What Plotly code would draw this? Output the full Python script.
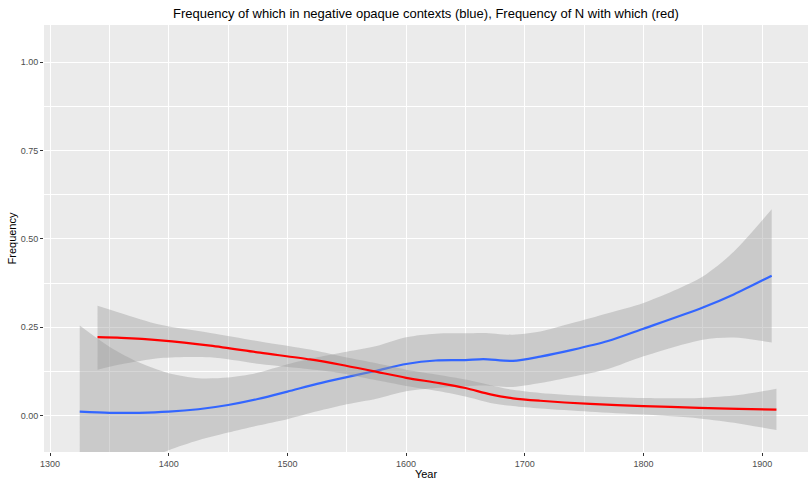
import plotly.graph_objects as go

# Blue: frequency of "which" in negative opaque contexts (loess fit + 95% band)
blue_years = [1325, 1350, 1375, 1400, 1425, 1450, 1475, 1500, 1525, 1550, 1575, 1600,
              1625, 1650, 1665, 1690, 1713, 1740, 1770, 1800, 1850, 1876, 1908]
blue_fit = [0.011, 0.008, 0.008, 0.011, 0.018, 0.030, 0.047, 0.068, 0.090, 0.109, 0.127, 0.146,
            0.156, 0.157, 0.160, 0.155, 0.167, 0.186, 0.211, 0.246, 0.306, 0.343, 0.396]
blue_upper = [0.255, 0.195, 0.150, 0.120, 0.106, 0.108, 0.121, 0.145, 0.165, 0.181, 0.197, 0.222,
              0.232, 0.233, 0.234, 0.229, 0.238, 0.262, 0.290, 0.319, 0.394, 0.464, 0.584]
blue_lower = [-0.233, -0.180, -0.134, -0.098, -0.070, -0.048, -0.028, -0.010, 0.012, 0.032, 0.048, 0.069,
              0.078, 0.083, 0.085, 0.081, 0.092, 0.110, 0.132, 0.168, 0.215, 0.221, 0.207]

# Red: frequency of N with "which"
red_years = [1340, 1360, 1393, 1435, 1477, 1519, 1545, 1572, 1600, 1628, 1650, 1671,
             1690, 1713, 1755, 1800, 1847, 1880, 1912]
red_fit = [0.222, 0.220, 0.213, 0.198, 0.178, 0.159, 0.144, 0.126, 0.107, 0.092, 0.078, 0.060,
           0.049, 0.042, 0.033, 0.027, 0.022, 0.019, 0.017]
red_upper = [0.311, 0.290, 0.257, 0.234, 0.210, 0.187, 0.168, 0.150, 0.130, 0.115, 0.102, 0.086,
             0.073, 0.064, 0.055, 0.050, 0.050, 0.058, 0.076]
red_lower = [0.130, 0.145, 0.163, 0.165, 0.146, 0.131, 0.120, 0.102, 0.084, 0.069, 0.054, 0.036,
             0.027, 0.020, 0.011, 0.003, -0.008, -0.022, -0.041]

x_ticks = [1300, 1400, 1500, 1600, 1700, 1800, 1900]
y_ticks = [0.0, 0.25, 0.5, 0.75, 1.0]
y_tick_labels = ["0.00", "0.25", "0.50", "0.75", "1.00"]

band_fill = "rgba(153,153,153,0.4)"
FONT = "Liberation Sans, Arial, Helvetica, sans-serif"

fig = go.Figure()


def add_band(xs, lo, hi):
    fig.add_trace(go.Scatter(
        x=xs, y=lo, mode="lines", line=dict(width=0, shape="spline", smoothing=0.8),
        hoverinfo="skip", showlegend=False))
    fig.add_trace(go.Scatter(
        x=xs, y=hi, mode="lines", fill="tonexty", fillcolor=band_fill,
        line=dict(width=0, shape="spline", smoothing=0.8),
        hoverinfo="skip", showlegend=False))


add_band(blue_years, blue_lower, blue_upper)
fig.add_trace(go.Scatter(x=blue_years, y=blue_fit, mode="lines",
                         line=dict(color="#3366FF", width=2.2, shape="spline", smoothing=0.8),
                         showlegend=False))
add_band(red_years, red_lower, red_upper)
fig.add_trace(go.Scatter(x=red_years, y=red_fit, mode="lines",
                         line=dict(color="#FF0000", width=2.2, shape="spline", smoothing=0.8),
                         showlegend=False))

fig.update_layout(
    width=809, height=480,
    margin=dict(l=44, r=1, t=25, b=28),
    paper_bgcolor="white", plot_bgcolor="#EBEBEB",
    font=dict(family=FONT, color="#4D4D4D", size=9),
    title=dict(text="Frequency of which in negative opaque contexts (blue), Frequency of N with which (red)",
               x=0.5, xref="paper", xanchor="center", y=1 - 13 / 480, yanchor="middle",
               font=dict(family=FONT, size=13, color="black")),
)
fig.update_xaxes(
    range=[1294.9, 1938.6], tickvals=x_ticks, ticktext=[str(v) for v in x_ticks],
    showgrid=True, gridcolor="white", gridwidth=1.1, zeroline=False,
    ticks="outside", ticklen=3, tickcolor="#333333", tickwidth=1,
    tickfont=dict(size=9, color="#4D4D4D"),
    minor=dict(tickvals=[1350, 1450, 1550, 1650, 1750, 1850], showgrid=True,
               gridcolor="white", gridwidth=0.5, ticks=""),
    title=dict(text="Year", font=dict(size=11, color="black"), standoff=1),
    automargin=False, showline=False,
)
fig.update_yaxes(
    range=[-0.103, 1.1055], tickvals=y_ticks, ticktext=y_tick_labels,
    showgrid=True, gridcolor="white", gridwidth=1.1, zeroline=False,
    ticks="outside", ticklen=3, tickcolor="#333333", tickwidth=1,
    tickfont=dict(size=9, color="#4D4D4D"),
    minor=dict(tickvals=[0.125, 0.375, 0.625, 0.875], showgrid=True,
               gridcolor="white", gridwidth=0.5, ticks=""),
    title=dict(text="Frequency", font=dict(size=11, color="black"), standoff=1),
    automargin=False, showline=False,
)

fig.write_html("out.html", config={"displayModeBar": False},
               post_script="document.body.style.margin='0';")
